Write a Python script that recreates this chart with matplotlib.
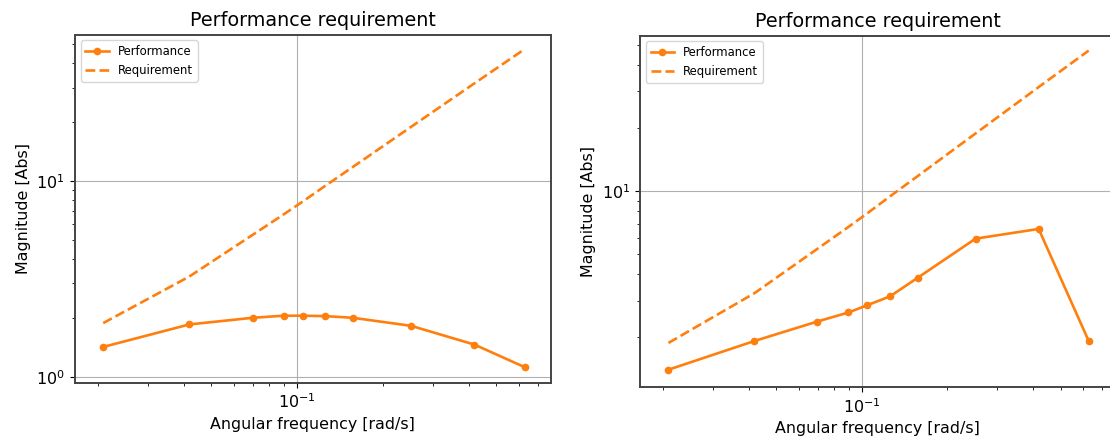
import matplotlib
matplotlib.use("Agg")
import matplotlib.pyplot as plt

# Angular frequencies of the evaluated sea states [rad/s]
omega = [0.0209, 0.0419, 0.0698, 0.0898, 0.1047, 0.1257, 0.1571, 0.2513, 0.4189, 0.6283]

# Requirement envelope (same for both cases)
requirement = [1.88, 3.25, 5.30, 6.75, 7.85, 9.45, 11.8, 18.9, 31.5, 47.1]

# Achieved performance, case A and case B
performance_a = [1.42, 1.85, 2.00, 2.05, 2.05, 2.04, 2.00, 1.82, 1.46, 1.12]
performance_b = [1.40, 1.92, 2.38, 2.63, 2.85, 3.14, 3.85, 5.93, 6.60, 1.92]

color = "#ff7f0e"

fig = plt.figure(figsize=(11.10, 4.44), dpi=100)

panels = [
    # (rect, performance, ylim)
    ([0.0673, 0.138, 0.4291, 0.784], performance_a, (0.932, 55.9)),
    ([0.5766, 0.1277, 0.428, 0.792], performance_b, (1.153, 55.5)),
]

for rect, perf, ylim in panels:
    ax = fig.add_axes(rect)
    ax.plot(omega, perf, "-o", color=color, lw=1.9, ms=4.5, label="Performance")
    ax.plot(omega, requirement, "--", color=color, lw=1.9, label="Requirement")
    ax.set_xscale("log")
    ax.set_yscale("log")
    ax.set_xlim(0.0166, 0.778)
    ax.set_ylim(*ylim)
    ax.grid(True, which="major", color="#b0b0b0", lw=0.8)
    ax.set_title("Performance requirement", fontsize=13.8)
    ax.set_xlabel("Angular frequency [rad/s]", fontsize=11.4)
    ax.set_ylabel("Magnitude [Abs]", fontsize=11.4)
    ax.tick_params(labelsize=11.5)
    for s in ax.spines.values():
        s.set_color("#444444")
        s.set_linewidth(1.4)
    ax.legend(loc="upper left", fontsize=8.4, framealpha=0.8)

fig.savefig("out.png", dpi=100)
